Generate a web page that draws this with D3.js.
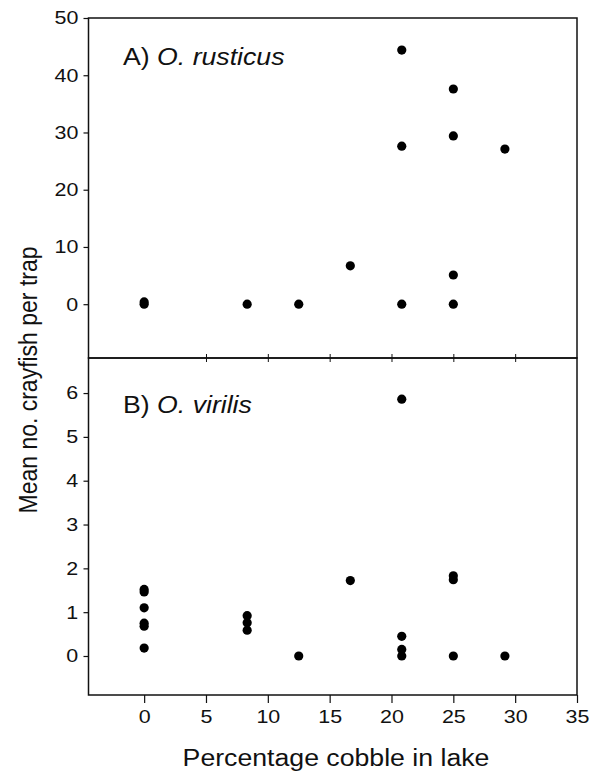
<!DOCTYPE html>
<html><head><meta charset="utf-8">
<script src="https://cdn.jsdelivr.net/npm/d3@7"></script>
<style>body{margin:0;background:#fff}svg{display:block}text{font-family:"Liberation Sans",Arial,sans-serif;fill:#111}</style>
</head><body><svg id="c" width="595" height="773"></svg>
<script>
// Data
const xTicks = [0,5,10,15,20,25,30,35];
const yTicksA = [0,10,20,30,40,50];
const yTicksB = [0,1,2,3,4,5,6];
const rusticusX = [0,0,8.33,12.5,16.67,20.83,20.83,20.83,25,25,25,25,29.17];
const rusticusY = [0.4,0,0,0,6.7,44.4,27.6,0,37.6,29.4,5.1,0,27.1];
const virilisX = [0,0,0,0,0,0,8.33,8.33,8.33,12.5,16.67,20.83,20.83,20.83,20.83,25,25,25,29.17];
const virilisY = [1.52,1.46,1.10,0.75,0.68,0.18,0.92,0.76,0.59,0,1.72,5.86,0.45,0.15,0,1.83,1.74,0,0];

const SX = 1.16; // horizontal stretch of type in the reference
const svg = d3.select("#c");
const L=88.5, R=577, T=18, M=358, B=695;
const x = d3.scaleLinear().domain([-4.5,35]).range([L,R]);
const yA = d3.scaleLinear().domain([-9.4,50]).range([M,T]);
const yB = d3.scaleLinear().domain([-0.89,6.8]).range([B,M]);
const stroke="#111";

function stretchedText(px, py, size, anchor){
  return svg.append("text").attr("transform",`translate(${px},${py}) scale(${SX},1)`)
    .attr("text-anchor",anchor).style("font-size",size+"px");
}

function panel(y, ticks, xs, ys, label, italic, top, bottom, labelY){
  const g = svg.append("g");
  const ya = g.append("g").attr("transform",`translate(${L},0)`)
    .call(d3.axisLeft(y).tickValues(ticks).tickSize(5).tickFormat(d3.format("d")));
  ya.select(".domain").remove();
  ya.selectAll("line").attr("stroke",stroke).attr("stroke-width",1.2);
  ya.selectAll("text").style("font-size","18.5px")
    .attr("x",-10.2/SX).attr("transform",`scale(${SX},1)`);
  g.append("rect").attr("x",L).attr("y",top).attr("width",R-L).attr("height",bottom-top)
    .attr("fill","none").attr("stroke",stroke).attr("stroke-width",1.5);
  g.selectAll("circle").data(xs.map((d,i)=>[d,ys[i]])).join("circle")
    .attr("cx",d=>x(d[0])).attr("cy",d=>y(d[1])).attr("r",4.6).attr("fill","#000");
  const t = stretchedText(123, labelY, 23, "start");
  t.append("tspan").text(label+" ");
  t.append("tspan").style("font-style","italic").text(italic);
}
panel(yA, yTicksA, rusticusX, rusticusY, "A)", "O. rusticus", T, M, 65);
panel(yB, yTicksB, virilisX, virilisY, "B)", "O. virilis", M, B, 412.5);

// divider ticks
const dA = svg.append("g").attr("transform",`translate(0,${M})`)
  .call(d3.axisTop(x).tickValues(xTicks.slice(1,7)).tickSize(4).tickFormat(""));
dA.select(".domain").remove(); dA.selectAll("line").attr("stroke",stroke);
const dB = svg.append("g").attr("transform",`translate(0,${M})`)
  .call(d3.axisBottom(x).tickValues(xTicks.slice(1,7)).tickSize(4).tickFormat(""));
dB.select(".domain").remove(); dB.selectAll("line").attr("stroke",stroke);

// bottom x axis
const xa = svg.append("g").attr("transform",`translate(0,${B})`)
  .call(d3.axisBottom(x).tickValues(xTicks).tickSize(8).tickPadding(7).tickFormat(d3.format("d")));
xa.select(".domain").remove();
xa.selectAll("line").attr("stroke",stroke).attr("stroke-width",1.2);
xa.selectAll("text").style("font-size","18.5px").attr("transform",`scale(${SX},1)`);

stretchedText(336, 766, 23, "middle").text("Percentage cobble in lake");
svg.append("text").attr("transform",`translate(37,380) scale(${SX},1) rotate(-90)`)
  .attr("text-anchor","middle").style("font-size","23px").text("Mean no. crayfish per trap");
</script></body></html>
